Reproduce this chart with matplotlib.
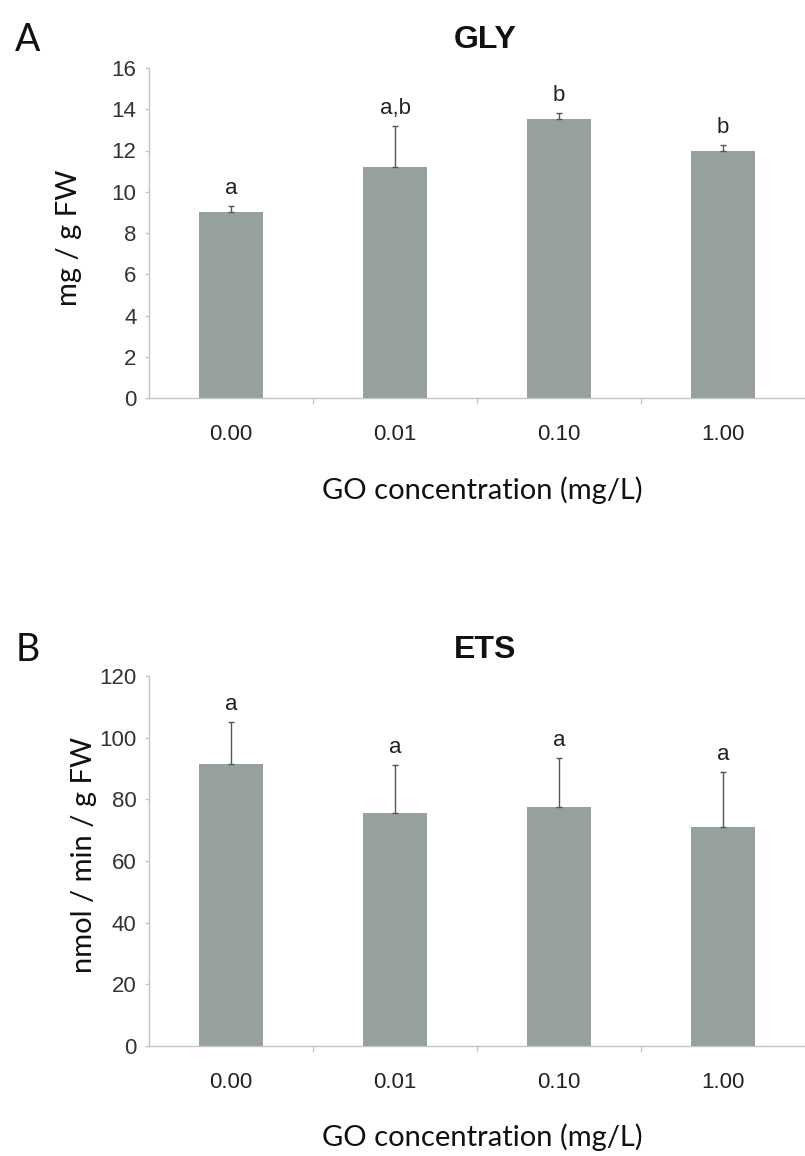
import matplotlib
matplotlib.use("Agg")
import matplotlib.pyplot as plt
import numpy as np

categories = ["0.00", "0.01", "0.10", "1.00"]

gly_values = [9.0, 11.2, 13.55, 12.0]
gly_errors = [0.3, 2.0, 0.25, 0.25]
gly_letters = ["a", "a,b", "b", "b"]
gly_yticks = [0, 2, 4, 6, 8, 10, 12, 14, 16]

ets_values = [91.5, 75.5, 77.5, 71.0]
ets_errors = [13.5, 15.5, 16.0, 18.0]
ets_letters = ["a", "a", "a", "a"]
ets_yticks = [0, 20, 40, 60, 80, 100, 120]

W, H = 805, 1156
fig = plt.figure(figsize=(W / 100, H / 100), dpi=100)

BAR = "#95a09f"
AXC = "#c4c4c4"
NARROW = ["Liberation Sans Narrow", "Liberation Sans", "DejaVu Sans"]
LABF = ["Lato", "DejaVu Sans"]


def fx(px):
    return px / W


def fy(py):
    return 1 - py / H


def panel(rect, values, errors, letters, yticks, ymax, title, letter,
          ylabel, title_y, ylab_x, ylab_y, xlab_y):
    ax = fig.add_axes(rect)
    x = np.arange(len(categories))
    ax.bar(x, values, width=0.39, color=BAR, zorder=2)
    ax.errorbar(x, values, yerr=[np.zeros(len(errors)), errors], fmt="none",
                ecolor="#555555", elinewidth=1.0, capsize=2, capthick=1.0,
                zorder=3)
    for xi, v, e, t in zip(x, values, errors, letters):
        ax.annotate(t, (xi, v + e), xytext=(0, 5), textcoords="offset points",
                    ha="center", va="bottom", fontsize=16, family=NARROW,
                    color="#222222")
    ax.set_xlim(-0.5, 3.5)
    ax.set_ylim(0, ymax)
    ax.set_yticks(yticks)
    ax.set_yticklabels([str(t) for t in yticks], family=NARROW, fontsize=16,
                       color="#333333")
    ax.set_xticks(x)
    ax.set_xticklabels(categories, family=NARROW, fontsize=16,
                       color="#222222")
    ax.set_xticks([0.5, 1.5, 2.5], minor=True)
    ax.tick_params(axis="x", which="major", length=0, pad=19)
    ax.tick_params(axis="x", which="minor", length=4, color=AXC, width=1)
    ax.tick_params(axis="y", which="major", length=3, color=AXC, width=1,
                   pad=6)
    for s in ["top", "right"]:
        ax.spines[s].set_visible(False)
    for s in ["left", "bottom"]:
        ax.spines[s].set_color(AXC)
        ax.spines[s].set_linewidth(1.0)
    fig.text(fx(485), fy(title_y), title, ha="center", va="center",
             fontsize=23, fontweight="bold", family=NARROW, color="#111111")
    fig.text(fx(28), fy(title_y), letter, ha="center", va="center",
             fontsize=27, family=LABF, color="#111111")
    fig.text(fx(ylab_x), fy(ylab_y), ylabel, ha="center", va="center",
             rotation=90, fontsize=21, family=LABF, color="#111111")
    fig.text(fx(482), fy(xlab_y), "GO concentration (mg/L)", ha="center",
             va="center", fontsize=21, family=LABF, color="#111111")
    return ax


# Panel A
panel([fx(149), fy(398), fx(805) - fx(149), fy(68) - fy(398)],
      gly_values, gly_errors, gly_letters, gly_yticks, 16, "GLY", "A",
      "mg / g FW", 40, 69, 238, 490)

# Panel B
panel([fx(149), fy(1046), fx(805) - fx(149), fy(676) - fy(1046)],
      ets_values, ets_errors, ets_letters, ets_yticks, 120, "ETS", "B",
      "nmol / min / g FW", 650, 84, 855, 1137)

fig.savefig("out.png", dpi=100, facecolor="white")
